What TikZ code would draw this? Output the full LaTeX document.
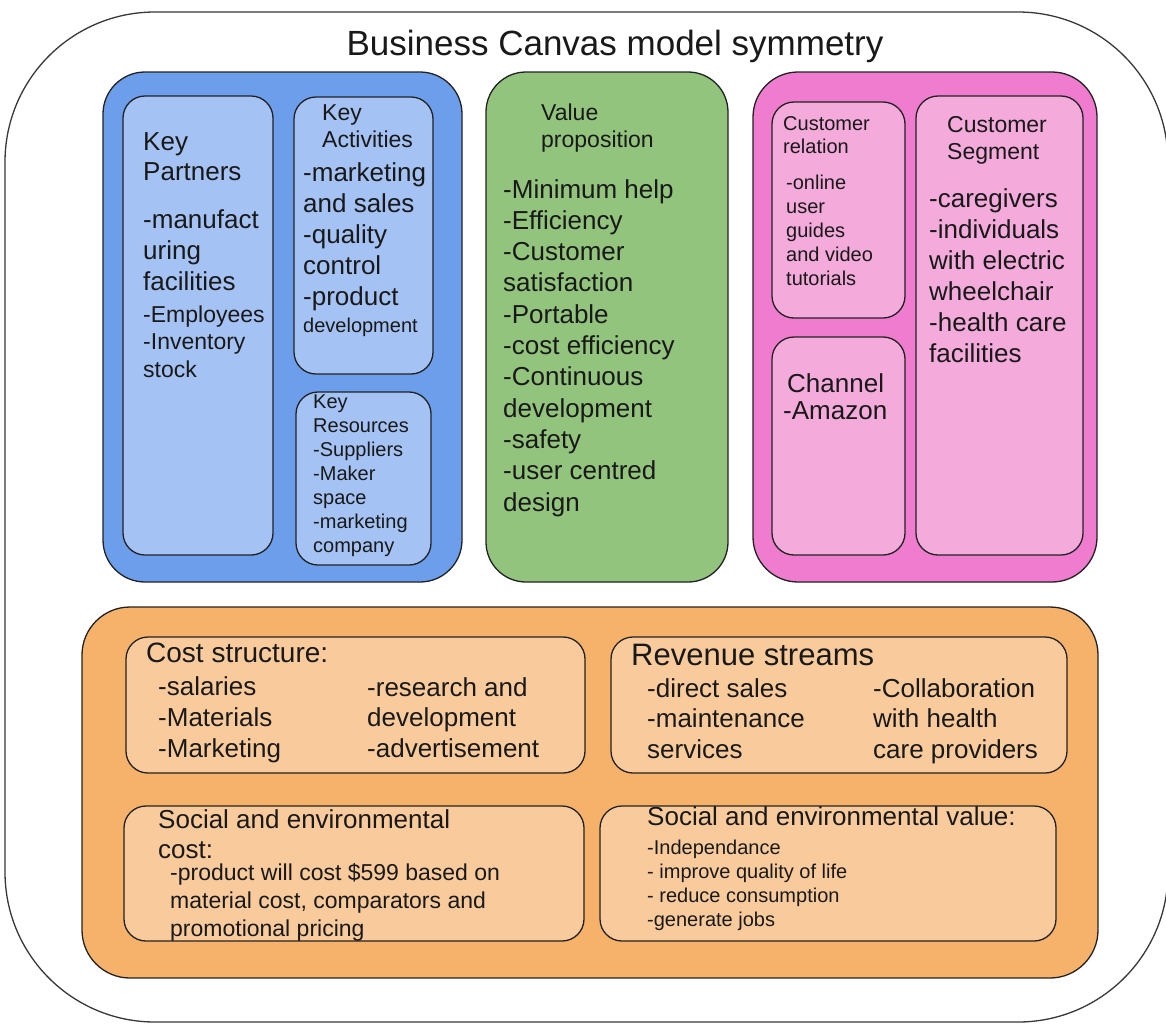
\documentclass[tikz,border=0pt]{standalone}
\usepackage{fontspec}
\setmainfont{Liberation Sans}
\newcommand\myfs[2]{\fontsize{#1}{#2}\selectfont}
\newcommand\ml[1]{\begin{tabular}[t]{@{}l@{}}#1\end{tabular}}
\definecolor{blueO}{HTML}{6D9EEB}
\definecolor{blueI}{HTML}{A4C2F4}
\definecolor{greenO}{HTML}{93C47D}
\definecolor{pinkO}{HTML}{EF7CCE}
\definecolor{pinkI}{HTML}{F4AADA}
\definecolor{orangeO}{HTML}{F6B26B}
\definecolor{orangeI}{HTML}{F9CB9C}
\definecolor{edge}{HTML}{222222}
\tikzset{
  panel/.style={draw=edge, line width=1.3pt},
  txt/.style={anchor=base west, inner sep=0pt, text=black!90}
}
\begin{document}
\begin{tikzpicture}[x=1pt,y=-1pt]
\useasboundingbox (0,0) rectangle (1166,1026);
\begin{scope}
\clip (0,0) rectangle (1166,1026);
% outer frame
\draw[draw=edge!90, line width=1.3pt, fill=white, rounded corners=150pt] (5,12) rectangle (1168,1022);
% blue group
\draw[panel, fill=blueO, rounded corners=42pt] (103,72) rectangle (462,582);
\draw[panel, fill=blueI, rounded corners=22pt] (123,96) rectangle (273,555);
\draw[panel, fill=blueI, rounded corners=22pt] (294,97) rectangle (433,374);
\draw[panel, fill=blueI, rounded corners=22pt] (296,392) rectangle (431,565);
% green
\draw[panel, fill=greenO, rounded corners=40pt] (486,72) rectangle (728,582);
% pink group
\draw[panel, fill=pinkO, rounded corners=45pt] (753,72) rectangle (1097,582);
\draw[panel, fill=pinkI, rounded corners=22pt] (772,102) rectangle (905,318);
\draw[panel, fill=pinkI, rounded corners=22pt] (772,337) rectangle (905,555);
\draw[panel, fill=pinkI, rounded corners=22pt] (916,96) rectangle (1083,555);
% orange group
\draw[panel, fill=orangeO, rounded corners=48pt] (82,607) rectangle (1098,978);
\draw[panel, fill=orangeI, rounded corners=22pt] (126,637) rectangle (585,773);
\draw[panel, fill=orangeI, rounded corners=22pt] (611,637) rectangle (1067,773);
\draw[panel, fill=orangeI, rounded corners=22pt] (124,806) rectangle (584,941);
\draw[panel, fill=orangeI, rounded corners=22pt] (600,806) rectangle (1056,941);
\end{scope}

% title
\node[txt, anchor=base, font=\myfs{35}{40}] (title) at (615,55) {Business Canvas model symmetry};

% key partners
\node[txt, font=\myfs{26}{30}] (kp) at (143,150) {\ml{Key\\Partners}};
\node[txt, font=\myfs{26}{31}] (kpa) at (143,228) {\ml{-manufact\\uring\\facilities}};
\node[txt, font=\myfs{23}{27.5}] (kpb) at (143,322) {\ml{-Employees\\-Inventory\\stock}};

% key activities
\node[txt, font=\myfs{23}{27}] (ka) at (322,120) {\ml{Key\\Activities}};
\node[txt, font=\myfs{26}{31}] (kab) at (303,181) {\ml{-marketing\\and sales\\-quality\\control\\-product}};
\node[txt, font=\myfs{20}{24}] (kac) at (303,332) {development};

% key resources
\node[txt, font=\myfs{20}{24}] (kr) at (313,408) {\ml{Key\\Resources\\-Suppliers\\-Maker\\space\\-marketing\\company}};

% value proposition
\node[txt, font=\myfs{23}{27}] (vp) at (541,120) {\ml{Value\\proposition}};
\node[txt, font=\myfs{26}{31.3}] (vpl) at (503,198) {\ml{-Minimum help\\-Efficiency\\-Customer\\satisfaction\\-Portable\\-cost efficiency\\-Continuous\\development\\-safety\\-user centred\\design}};

% customer relation
\node[txt, font=\myfs{20}{23}] (cr) at (783,130) {\ml{Customer\\relation}};
\node[txt, font=\myfs{20}{24}] (crl) at (786,189) {\ml{-online\\user\\guides\\and video\\tutorials}};

% channel
\node[txt, font=\myfs{26}{27}] (ch) at (787,392) {Channel};
\node[txt, font=\myfs{26}{27}] (cha) at (783,419) {-Amazon};

% customer segment
\node[txt, font=\myfs{23}{27}] (cs) at (947,132) {\ml{Customer\\Segment}};
\node[txt, font=\myfs{26}{31}] (csl) at (929,207) {\ml{-caregivers\\-individuals\\with electric\\wheelchair\\-health care\\facilities}};

% cost structure
\node[txt, font=\myfs{28}{30}] (cost) at (146,662) {Cost structure:};
\node[txt, font=\myfs{26}{31}] (costa) at (158,695) {\ml{-salaries\\-Materials\\-Marketing}};
\node[txt, font=\myfs{26}{30.5}] (costb) at (367,696) {\ml{-research and\\development\\-advertisement}};

% revenue streams
\node[txt, font=\myfs{31}{33}] (rev) at (631,665) {Revenue streams};
\node[txt, font=\myfs{26}{30.5}] (reva) at (647,697) {\ml{-direct sales\\-maintenance\\services}};
\node[txt, font=\myfs{26}{30.5}] (revb) at (873,697) {\ml{-Collaboration\\with health\\care providers}};

% social and environmental cost
\node[txt, font=\myfs{26}{30}] (sc) at (158,828) {\ml{Social and environmental\\cost:}};
\node[txt, font=\myfs{23}{28}] (scl) at (170,880) {\ml{-product will cost \$599 based on\\material cost, comparators and\\promotional pricing}};

% social and environmental value
\node[txt, font=\myfs{26}{30}] (sv) at (647,825) {Social and environmental value:};
\node[txt, font=\myfs{20}{24.3}] (svl) at (647,854) {\ml{-Independance\\- improve quality of life\\- reduce consumption\\-generate jobs}};
\end{tikzpicture}
\end{document}
